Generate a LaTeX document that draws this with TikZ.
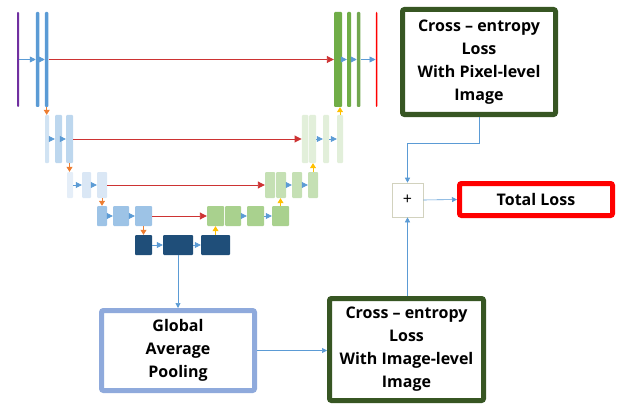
\documentclass[tikz,border=0pt]{standalone}
\usepackage{fontspec}
\setmainfont{Open Sans}
\usetikzlibrary{arrows.meta}

\definecolor{encA}{RGB}{91,155,213}
\definecolor{encB}{RGB}{189,215,238}
\definecolor{encC}{RGB}{218,231,245}
\definecolor{encD}{RGB}{157,195,230}
\definecolor{botm}{RGB}{31,78,121}
\definecolor{decA}{RGB}{112,173,71}
\definecolor{decB}{RGB}{226,239,218}
\definecolor{decC}{RGB}{197,224,180}
\definecolor{decD}{RGB}{169,209,142}
\definecolor{skipred}{RGB}{192,0,0}
\definecolor{downorg}{RGB}{237,125,49}
\definecolor{upgold}{RGB}{255,192,0}
\definecolor{inpurp}{RGB}{112,48,160}
\definecolor{gapblue}{RGB}{143,170,220}
\definecolor{cegreen}{RGB}{55,86,35}
\definecolor{plusgray}{RGB}{210,210,190}

\begin{document}
\begin{tikzpicture}[x=1pt,y=-1pt,
    bar/.style={inner sep=0pt, rounded corners=1pt},
    flow/.style={encA, line width=0.7pt, -{Triangle[length=6pt,width=6pt]}},
    skip/.style={skipred!80, line width=0.9pt, -{Triangle[length=7pt,width=7pt]}},
    godown/.style={downorg, line width=0.7pt, -{Triangle[length=5pt,width=6pt]}},
    goup/.style={upgold, line width=0.7pt, -{Triangle[length=5pt,width=6pt]}},
    link/.style={encA, line width=0.6pt, -{Triangle[length=5pt,width=5pt]}},
    lossbox/.style={draw, line width=5pt, fill=white, align=center, inner sep=0pt,
        rounded corners=2pt, font=\bfseries\fontsize{16}{23}\selectfont}]
\useasboundingbox (0,0) rectangle (619,404);

\node[bar, fill=inpurp, minimum width=2, minimum height=95] (in) at (18,59.5) {};
\node[bar, fill=encA, minimum width=3.5, minimum height=95] (e0a) at (37.7,59.5) {};
\node[bar, fill=encA, minimum width=3.5, minimum height=95] (e0b) at (46.7,59.5) {};
\node[bar, fill=decA, minimum width=8, minimum height=95] (d0a) at (338,59.5) {};
\node[bar, fill=decA, minimum width=4, minimum height=95] (d0b) at (349,59.5) {};
\node[bar, fill=decA!85!gray, minimum width=3.5, minimum height=95] (d0c) at (358.7,59.5) {};
\node[bar, fill=red, minimum width=1.5, minimum height=95] (out) at (376.5,59.5) {};

\node[bar, fill=encB!70!white, minimum width=4, minimum height=48] (e1a) at (47,139) {};
\node[bar, fill=encB, minimum width=7, minimum height=48] (e1b) at (58.5,139) {};
\node[bar, fill=encB, minimum width=7, minimum height=48] (e1c) at (69.5,139) {};
\node[bar, fill=decB, minimum width=6.5, minimum height=48] (d1a) at (305,139) {};
\node[bar, fill=decB, minimum width=7, minimum height=48] (d1b) at (312.5,139) {};
\node[bar, fill=decB, minimum width=6, minimum height=48] (d1c) at (326,139) {};
\node[bar, fill=decB, minimum width=6, minimum height=48] (d1d) at (340,139) {};

\node[bar, fill=encC!70!white, minimum width=6, minimum height=26] (e2a) at (70,185) {};
\node[bar, fill=encC, minimum width=9, minimum height=26] (e2b) at (86.5,185) {};
\node[bar, fill=encC, minimum width=10, minimum height=26] (e2c) at (102,185) {};
\node[bar, fill=decC, minimum width=10, minimum height=26] (d2a) at (270,185) {};
\node[bar, fill=decC, minimum width=10, minimum height=26] (d2b) at (281,185) {};
\node[bar, fill=decC, minimum width=10, minimum height=26] (d2c) at (297,185) {};
\node[bar, fill=decC, minimum width=10, minimum height=26] (d2d) at (313,185) {};

\node[bar, fill=encD, minimum width=10, minimum height=20] (e3a) at (102,216) {};
\node[bar, fill=encD, minimum width=16, minimum height=20] (e3b) at (121,216) {};
\node[bar, fill=encD, minimum width=17, minimum height=20] (e3c) at (143.5,216) {};
\node[bar, fill=decD, minimum width=17, minimum height=20] (d3a) at (215.5,216) {};
\node[bar, fill=decD, minimum width=16, minimum height=20] (d3b) at (233,216) {};
\node[bar, fill=decD, minimum width=17, minimum height=20] (d3c) at (255.5,216) {};
\node[bar, fill=decD, minimum width=17, minimum height=20] (d3d) at (280.5,216) {};

\node[bar, fill=botm, minimum width=17, minimum height=20] (b4a) at (143.5,245) {};
\node[bar, fill=botm, minimum width=30, minimum height=20] (b4b) at (178,245) {};
\node[bar, fill=botm, minimum width=29, minimum height=20] (b4c) at (215.5,245) {};

\draw[flow] (in) -- (e0a);
\draw[flow] (e0a) -- (e0b);
\draw[skip] (e0b) -- (d0a);
\draw[flow] (d0a) -- (d0b);
\draw[flow] (d0b) -- (d0c);
\draw[flow] (d0c) -- (out);

\draw[flow] (e1a) -- (e1b);
\draw[flow] (e1b) -- (e1c);
\draw[skip] (e1c) -- (d1a);
\draw[flow] (d1b) -- (d1c);
\draw[flow] (d1c) -- (d1d);

\draw[flow] (e2a) -- (e2b);
\draw[flow] (e2b) -- (e2c);
\draw[skip] (e2c) -- (d2a);
\draw[flow] (d2b) -- (d2c);
\draw[flow] (d2c) -- (d2d);

\draw[flow] (e3a) -- (e3b);
\draw[flow] (e3b) -- (e3c);
\draw[skip] (e3c) -- (d3a);
\draw[flow] (d3b) -- (d3c);
\draw[flow] (d3c) -- (d3d);

\draw[flow] (b4a) -- (b4b);
\draw[flow] (b4b) -- (b4c);

\draw[godown] (e0b.south) -- (e0b.south |- e1a.north);
\draw[godown] (e1c.south) -- (e1c.south |- e2a.north);
\draw[godown] (e2c.south) -- (e2c.south |- e3a.north);
\draw[godown] (e3c.south) -- (e3c.south |- b4a.north);
\draw[goup] (b4c.north) -- (b4c.north |- d3a.south);
\draw[goup] (d3d.north) -- (d3d.north |- d2b.south);
\draw[goup] (d2d.north) -- (d2d.north |- d1b.south);
\draw[goup] (d1d.north) -- (d1d.north |- d0a.south);

\node[lossbox, draw=gapblue, minimum width=153, minimum height=80] (gap) at (178,350.5)
    {Global\\Average\\Pooling};
\node[lossbox, draw=cegreen, minimum width=154, minimum height=102] (ceimg) at (406.5,349.5)
    {Cross -- entropy\\Loss\\With Image-level\\Image};
\node[lossbox, draw=cegreen, minimum width=153, minimum height=105] (cepix) at (479,62)
    {Cross -- entropy\\Loss\\With Pixel-level\\Image};
\node[draw=plusgray, line width=0.6pt, minimum width=31, minimum height=34, inner sep=0pt,
    font=\fontsize{16}{18}\selectfont] (plus) at (407.5,200) {+};
\node[lossbox, draw=red, minimum width=153, minimum height=32] (total) at (536,199.5)
    {Total Loss};

\draw[link] (b4b.south) -- (gap.north);
\draw[link] (gap.east) -- (gap.east -| ceimg.west);
\draw[link] (plus |- ceimg.north) -- (plus.south);
\draw[link] (cepix.south) -- ++(0,26) -| (plus.north);
\draw[link] (plus.east) -- (total.west);
\end{tikzpicture}
\end{document}
